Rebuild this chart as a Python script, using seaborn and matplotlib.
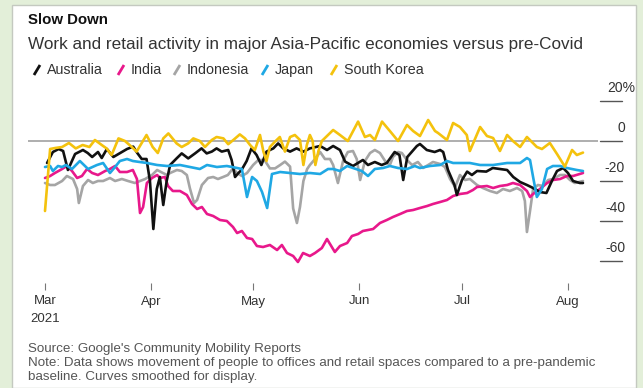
import numpy as np
import pandas as pd
import matplotlib
matplotlib.use("Agg")
import matplotlib.pyplot as plt
from matplotlib.lines import Line2D
from matplotlib.patches import Rectangle
import seaborn as sns

# ---------------- data (day offsets from 1 Mar 2021, % vs pre-Covid) ----------------
countries = ["Australia", "India", "Indonesia", "Japan", "South Korea"]

australia_days = [0.6, 2.3, 4, 5.3, 6.7, 8.8, 11.1, 12.5, 13.8, 15.5, 16.6, 18.1, 20, 22, 24, 25.8,
                  27, 28.3, 29.7, 30.7, 31.7, 32.7, 33.6, 34.6, 35.6, 36.6, 38.5, 40, 41.9, 43.9,
                  45.8, 47.3, 48.8, 50.2, 51.7, 53.6, 54.6, 55.6, 56.6, 57.5, 59, 60.4, 61.9, 63.3,
                  64.8, 66.8, 68.2, 69.7, 71.7, 73.6, 75.6, 77.5, 80.5, 82.5, 84.3, 86.3, 87.8,
                  90.1, 93, 94.5, 96.5, 98.5, 100, 102.3, 103.7, 104.8, 106, 108.8, 109.7, 111.7,
                  114, 115.6, 116.5, 117.9, 119.8, 120.5, 122, 123.5, 124.9, 126.4, 129.1, 131,
                  133.1, 135.2, 137, 139, 141, 142.8, 144.8, 146.7, 148.3, 149.8, 151.6, 153,
                  154.5, 156.5, 157.4]
australia_vals = [-11, -5.5, -4, -5, -14.5, -6.5, -4.5, -6, -8, -5.5, -8.5, -4, -8, -6, -4, -2.8,
                  -6, -9, -9, -20, -44, -24, -18, -32, -20, -12, -8.7, -6.2, -8.7, -6.2,
                  -3.7, -6.2, -5.3, -3.7, -5.3, -4.5, -9.5, -18, -16, -14.5, -10, -3.7, -7, -12,
                  -5.3, -3.7, -1.2, -3.7, -5.3, -3.7, -5.3, -3.7, -2.5, -4.5, -2.5, -4.5, -10.3,
                  -12.5, -9.5, -12, -10.5, -12, -11, -5.5, -7, -19.5, -8, -2.5, -1.5, -4.5,
                  -5.5, -4.5, -5.5, -14.5, -22, -27, -19.5, -15.3, -17, -15, -15.3, -13.5,
                  -14, -14.5, -18, -20.5, -22, -23.5, -25.5, -26, -20, -15, -13.5, -16,
                  -20, -21, -21]

india_days = [0, 1.5, 2.9, 5, 6.4, 7.9, 9.4, 10.8, 12.3, 13.8, 15.5, 17.6, 19, 20.5, 21.9, 24,
              25.7, 26.9, 27.8, 28.7, 29.8, 31.3, 32.8, 33.6, 35.1, 36, 37.4, 39.5, 41.5, 43,
              44.5, 45.9, 47.4, 49.2, 51.2, 53.2, 55, 56.2, 57.6, 59.1, 60.6, 62, 63.8, 65.8,
              67.9, 69.3, 70.8, 72.6, 74, 75.5, 77.5, 79, 81, 82.5, 84.8, 86.3, 88.4, 89.8,
              91.6, 93, 96, 98, 100, 101.8, 103.9, 105.9, 107.7, 109.7, 111.8, 113.5, 115.6,
              117.6, 119.4, 121.4, 123.5, 125.2, 126.4, 129.3, 131.1, 133.1, 135.2, 136.9,
              139, 141, 141.9, 142.8, 144.8, 146.9, 148.6, 150.7, 152.7, 154.5, 157.4]
india_vals = [-18.5, -17.5, -16, -14, -12.5, -15, -18.5, -17.5, -14, -16, -17, -15, -14, -12.5,
              -15.5, -15.5, -14.5, -19, -36, -33, -21, -18.5, -17, -18.5, -18, -22.5, -25, -25,
              -27, -31.5, -34, -33, -36.5, -37.5, -39.5, -40, -43, -46, -45, -48.5, -49, -52.5,
              -53, -52, -54.5, -52, -56, -57.5, -60.5, -56, -57.5, -56, -53.5, -49, -55.5, -52.5,
              -51, -47.5, -46.5, -45, -44, -41, -39.5, -38, -36.5, -35, -34.5, -33.5, -32.5,
              -31.5, -30.5, -29.5, -27.5, -26.5, -26, -24.5, -23, -22.5, -23.5, -22.5, -22,
              -21, -22, -25, -28, -26.5, -24, -21, -19.5, -19, -17.5, -17.5, -16]

indonesia_days = [0, 1.5, 2.9, 5, 6.4, 8.2, 9.4, 9.9, 11.1, 12.6, 14, 15.5, 17, 19, 20.5, 22.5,
                  24.3, 26.3, 29.3, 31.3, 32.8, 34.5, 35.7, 36.6, 38.6, 40, 41.5, 42.4, 43.6,
                  44.5, 45.9, 47.7, 49.2, 50.6, 52.1, 53.5, 55, 56.2, 57.6, 59.1, 60.9, 62.4,
                  63.5, 64.4, 65.8, 67.3, 68.8, 70.2, 71.7, 72.6, 73.7, 74.6, 75.6, 76.7, 77.5,
                  79, 80.5, 81.9, 83.4, 84.3, 85.7, 87.2, 88.6, 90.1, 91.2, 92.2, 93.6, 95.1,
                  96.5, 98, 99.5, 100.9, 101.8, 103.3, 104.4, 105.9, 107.4, 109.1, 110.6, 112.1,
                  113.5, 115.6, 117, 118.5, 120, 121.4, 122.9, 124.3, 126.4, 128.1, 130.2, 132.2,
                  134, 136, 138.1, 139.6, 140.4, 141, 141.9, 142.8, 144.2, 145.7, 147.2, 148.6,
                  150.7, 152.1, 153.6, 155, 157.4]
indonesia_vals = [-21, -22, -22, -20, -17.5, -19, -24, -31, -22.5, -19.5, -21, -20, -20, -18.5,
                  -20, -19, -20, -21, -19, -17, -14.5, -16, -17, -16, -14.5, -15, -17, -23.7,
                  -31, -29.5, -22, -18.5, -18, -19, -18, -17, -13.7, -16, -17.5, -16, -12,
                  -9.5, -9.5, -10, -13.7, -13.7, -12, -10.3, -12.8, -33.7, -41, -33, -20, -14,
                  -12, -9, -5.5, -9, -9, -12, -21, -10, -5.5, -5, -9, -19.5, -10, -6, -4.5, -6,
                  -10, -12, -8, -5.5, -6, -9.5, -12, -10.5, -13.5, -12, -10.5, -11.5, -13, -19,
                  -23, -17, -19.5, -19, -22, -23.5, -25, -26, -24, -25, -23.5, -25, -30, -45.5,
                  -35, -24, -22, -22.5, -19.5, -19, -17, -17, -19.5, -21, -20]

japan_days = [0, 1.5, 2.3, 3.8, 5, 6.1, 7.9, 10.2, 11.7, 12.6, 15.2, 17, 19, 20.5, 21.9, 24,
              25.7, 26.9, 29.8, 32.8, 35.7, 39.5, 42.4, 45.3, 47.4, 50.3, 53.2, 56.2, 57.6,
              59.1, 60.6, 62, 63.5, 65, 66.4, 68.8, 71.7, 74.6, 77.5, 80.5, 82.8, 84.3, 86.3,
              88.4, 90.1, 92.7, 94.5, 96.5, 98.9, 100.9, 103.3, 105.9, 108.2, 109.7, 112.6,
              115.6, 117.6, 119.4, 121.4, 124.3, 127.3, 131.1, 135.2, 139, 141, 141.9, 142.8,
              143.9, 145.4, 146.9, 148.6, 150.7, 152.7, 155.6, 157.4]
japan_vals = [-13, -12.5, -15, -12.5, -13, -12, -14, -10, -12.5, -14, -12, -11, -16, -13, -10,
              -9, -10, -10.3, -11, -12, -12.5, -12, -13, -14, -12, -13, -12.5, -13.5, -14,
              -28, -18, -20, -25.5, -33.5, -16.5, -15.5, -16, -16.5, -16, -16.5, -14, -14, -15,
              -12.5, -13.5, -15, -17.5, -14, -13.5, -12.5, -13.5, -14, -12.5, -13.5, -12.5,
              -12, -10, -11, -11, -11, -12, -12, -11, -11, -8.5, -9.5, -18,
              -28, -24, -14, -12.5, -12.5, -13.5, -14.5, -15]

south_korea_days = [0, 1.5, 3, 5, 7, 9, 11, 13, 14.6, 16.6, 18, 19.5, 21.5, 23.4, 25.4, 26.8,
                    28.3, 29.7, 31.5, 33, 34.6, 36.1, 38.5, 40, 41.9, 43.4, 45.3, 46.8, 48.8,
                    50.2, 52.2, 53.6, 55.1, 57, 58.5, 60, 61.4, 62.9, 63.9, 64.8, 65.8, 67.3,
                    68.7, 70.2, 71.7, 73.1, 74.6, 75.6, 76.6, 77.5, 78.3, 79.1, 80, 81, 84.3,
                    86.3, 88.6, 91.6, 93.6, 95.1, 96.5, 98.6, 100.9, 103.3, 105.9, 107.7, 109.7,
                    112.1, 114.1, 115, 117.6, 119.4, 121.4, 123.4, 124.3, 125.8, 127.3, 129.3,
                    131.1, 133.1, 135.2, 136.9, 139, 141, 143.9, 145.4, 147.7, 149.8, 152.1,
                    154.2, 155.6, 157.4]
south_korea_vals = [-35, -4, -3.5, -3, -1, -3.7, -2, -3, 0.5, -2, -3.7, -7, 1.3, 0, -3, -5.3,
                    -1, 3, -3, -6, 1.3, 3.8, -1.2, -3, -1.2, 1.3, 0, -3, 0.5,
                    2, 1.3, -1.6, 0.5, 3.3, 1.3, -2, -4.5, 3, -5.3, -10, -3, -0.3,
                    2, -5.3, 2, 3, 0.5, -12, -2, 3, 0, -12, -5, 0, 5.5,
                    3, 0, 9.7, 2, 3, 0.5, 9.7, 5, 0, 8, 5, 2.5,
                    10.5, 5, 4, 0.5, 9, 7, 3, -5, 1, 7, 2.5,
                    1.5, -5, 3, 0, -3, 2, -3, -4, -1, -6.5, -12.8,
                    -4.5, -7, -5.8]

month_labels = ["Mar\n2021", "Apr", "May", "Jun", "Jul", "Aug"]
ytick_values = [20, 0, -20, -40, -60]
ytick_labels = ["20%", "0", "-20", "-40", "-60"]

palette = {"Australia": "#111111", "India": "#e8188b", "Indonesia": "#a5a5a5",
           "Japan": "#1fa8e4", "South Korea": "#f4c20d"}

# ---------------- build long table ----------------
base = pd.Timestamp("2021-03-01")
series = {
    "Australia": (australia_days, australia_vals),
    "India": (india_days, india_vals),
    "Indonesia": (indonesia_days, indonesia_vals),
    "Japan": (japan_days, japan_vals),
    "South Korea": (south_korea_days, south_korea_vals),
}
frames = []
for name, (d, v) in series.items():
    frames.append(pd.DataFrame({
        "date": base + pd.to_timedelta(np.array(d, dtype=float), unit="D"),
        "value": v,
        "country": name,
    }))
df = pd.concat(frames, ignore_index=True)

# ---------------- figure ----------------
sns.set_style("white")
plt.rcParams["font.family"] = ["Liberation Sans", "DejaVu Sans"]

W, H = 643, 388
fig = plt.figure(figsize=(W / 100, H / 100), dpi=100)
fig.patch.set_facecolor("#e3efd9")

def fx(px):
    return px / W

def fy(py):
    return 1 - py / H

panel = Rectangle((fx(12), 0), fx(636) - fx(12), fy(5), transform=fig.transFigure,
                  facecolor="white", edgecolor="#c4c9c0", linewidth=1.0, zorder=-5)
fig.patches.append(panel)

ax_left, ax_right, ax_top, ax_bottom = 28, 598, 97, 283
ax = fig.add_axes([fx(ax_left), fy(ax_bottom), fx(ax_right) - fx(ax_left), fy(ax_top) - fy(ax_bottom)])
ax.set_zorder(2)
ax.patch.set_visible(False)

ax.axhline(0, color="#a8a8a8", linewidth=1.3, zorder=1)

hue_order = ["Indonesia", "India", "Australia", "Japan", "South Korea"]
sns.lineplot(data=df, x="date", y="value", hue="country", hue_order=hue_order,
             palette=palette, estimator=None, sort=True, linewidth=1.9, legend=False,
             ax=ax, zorder=3)

px_per_day = 3.418
ax.set_xlim(base - pd.Timedelta(days=(45 - ax_left) / px_per_day),
            base + pd.Timedelta(days=(ax_right - 45) / px_per_day))
ax.set_ylim((141 - ax_bottom) / 2, (141 - ax_top) / 2)

for s in ax.spines.values():
    s.set_visible(False)

month_ticks = pd.date_range("2021-03-01", periods=6, freq="MS")
ax.set_xticks(month_ticks)
ax.set_xticklabels(month_labels, fontsize=9.5, color="#333333", linespacing=1.65)
ax.tick_params(axis="x", direction="out", length=5, width=0.8, color="#777777", pad=4,
               bottom=True)
ax.set_yticks([])
ax.set_xlabel("")
ax.set_ylabel("")

# right-hand y ticks (Bloomberg style: label above a short rule)
tr = ax.get_yaxis_transform()
xw = ax_right - ax_left
for v, lab in zip(ytick_values, ytick_labels):
    ax.add_line(Line2D([(600 - ax_left) / xw, (622 - ax_left) / xw], [v, v], transform=tr,
                       color="#555555", linewidth=1.0, clip_on=False))
    xr = 635 if lab.endswith("%") else 625
    ax.text((xr - ax_left) / xw, v + 6.3, lab, transform=tr, ha="right", va="center",
            fontsize=10, color="#333333", clip_on=False)

# ---------------- titles ----------------
fig.text(fx(28), fy(20), "Slow Down", fontsize=10.8, fontweight="bold", color="#111111",
         ha="left", va="center")
fig.text(fx(28), fy(45), "Work and retail activity in major Asia-Pacific economies versus pre-Covid",
         fontsize=12.3, color="#333333", ha="left", va="center")

# legend with slanted strokes
legend_pos = {"Australia": 37, "India": 121, "Indonesia": 177, "Japan": 265, "South Korea": 334}
for name in countries:
    cx = legend_pos[name]
    fig.add_artist(Line2D([fx(cx - 3), fx(cx + 3)], [fy(75), fy(65)], transform=fig.transFigure,
                          color=palette[name], linewidth=2.0, solid_capstyle="butt"))
    fig.text(fx(cx + 10), fy(70), name, fontsize=10.3, color="#333333", ha="left", va="center")

# ---------------- footnotes ----------------
fig.text(fx(28), fy(349), "Source: Google's Community Mobility Reports", fontsize=9.6,
         color="#555555", ha="left", va="center")
fig.text(fx(28), fy(363),
         "Note: Data shows movement of people to offices and retail spaces compared to a pre-pandemic",
         fontsize=9.6, color="#555555", ha="left", va="center")
fig.text(fx(28), fy(377), "baseline. Curves smoothed for display.", fontsize=9.6,
         color="#555555", ha="left", va="center")

fig.savefig("out.png", dpi=100, facecolor=fig.get_facecolor())
